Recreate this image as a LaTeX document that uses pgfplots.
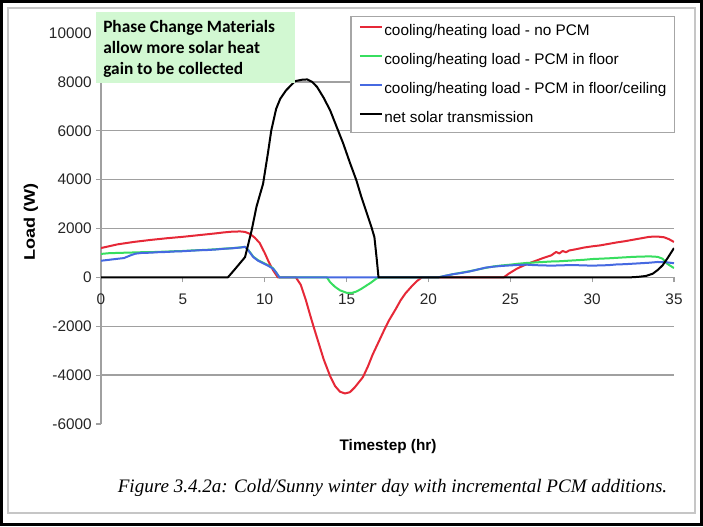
\documentclass[border=0pt]{standalone}
\usepackage{fontspec}
\setmainfont{Liberation Sans}
\newfontfamily\capfont{Liberation Serif}
\newfontfamily\notefont{Carlito}
\usepackage{graphicx}
\usepackage{pgfplots}
\pgfplotsset{compat=1.18}
\definecolor{cRed}{RGB}{230,40,55}
\definecolor{cGreen}{RGB}{55,222,95}
\definecolor{cBlue}{RGB}{70,105,225}
\definecolor{gridgray}{RGB}{160,160,160}
\definecolor{notegreen}{RGB}{210,248,210}
\begin{document}
\begin{tikzpicture}[x=0.75pt,y=0.75pt]
\path[use as bounding box] (0,0) rectangle (703,526);
\fill[white] (0,0) rectangle (703,526);
\draw[gray!45, line width=1pt] (8,13) rectangle (695,518);
\draw[black, line width=2.2pt] (1.5,1.5) rectangle (701.5,524.5);
\begin{axis}[
  at={(75.75pt,76.5pt)}, anchor=south west,
  scale only axis, width=429.75pt, height=293.25pt,
  xmin=0, xmax=35, ymin=-6000, ymax=10000,
  axis x line=middle, axis y line=left,
  axis line style={-, draw=gridgray, line width=1pt},
  scaled ticks=false,
  hide obscured x ticks=false,
  xtick={0,5,...,35}, xticklabels={0,5,10,15,20,25,30,35},
  ytick={-4000,-2000,...,8000},
  yticklabels={-4000,-2000,0,2000,4000,6000,8000},
  extra y ticks={-6000,10000}, extra y tick labels={-6000,10000},
  extra y tick style={grid=none},
  ymajorgrids, grid style={gridgray, line width=1.1pt},
  tick style={gridgray, line width=0.8pt}, tick align=outside,
  major tick length=3.5pt,
  tick label style={font=\fontsize{11.5}{13}\selectfont, text=black!85},
  xticklabel style={anchor=north, yshift=-5.5pt},
  yticklabel style={anchor=east},
  xlabel={\textbf{Timestep (hr)}},
  xlabel style={at={(axis description cs:0.501,-0.0588)}, anchor=center, font=\fontsize{11.5}{13}\selectfont},
  ylabel={\scalebox{1.18}[1]{\textbf{Load (W)}}},
  ylabel style={at={(axis description cs:-0.1222,0.5166)}, anchor=center, rotate=0, font=\fontsize{11.5}{13}\selectfont},
  legend style={at={(axis description cs:1.0017,1.0435)}, anchor=north east,
    draw=gray!70, line width=0.8pt, fill=white,
    font=\fontsize{11.5}{13}\selectfont, inner xsep=6pt, inner ysep=5.5pt,
    row sep=10.75pt, column sep=1pt,
    nodes={inner sep=0pt, text height=8.5pt, text depth=2.5pt}},
  legend cell align=left,
  legend image code/.code={\draw[#1] (0pt,3pt) -- (16.5pt,3pt);},
  every axis plot/.append style={line width=1.5pt, line join=round},
]
\addplot[cRed] coordinates {
(0,1200) (1,1350) (2,1450) (3,1530) (4,1600) (5,1660) (6,1730) (7,1800)
(7.5,1840) (8,1870) (8.5,1880) (8.8,1860) (9.1,1780) (9.4,1620) (9.7,1400)
(10.0,1000) (10.2,700) (10.5,300) (10.8,0) (11.9,0) (12.2,-300) (12.5,-900)
(12.8,-1600) (13.0,-2050) (13.3,-2700) (13.6,-3350) (14.0,-4050) (14.3,-4450)
(14.6,-4680) (14.9,-4750) (15.2,-4700) (15.5,-4500) (15.8,-4250) (16.0,-4080)
(16.3,-3650) (16.6,-3150) (17.0,-2580) (17.3,-2150) (17.6,-1750) (18.0,-1300)
(18.3,-940) (18.6,-650) (19.0,-350) (19.3,-150) (19.6,0) (24.6,0) (24.9,150)
(25.4,355) (25.8,480) (26.4,640) (27.0,790) (27.5,900) (27.8,1040) (28.0,980)
(28.2,1080) (28.4,1030) (28.6,1100) (29.0,1150) (29.5,1220) (30.0,1270)
(30.5,1310) (31.0,1370) (31.5,1430) (32.0,1480) (32.5,1540) (33.0,1600)
(33.5,1660) (34.0,1670) (34.4,1640) (34.7,1560) (35.0,1450)
};
\addlegendentry{cooling/heating load - no PCM}
\addplot[cGreen] coordinates {
(0,960) (0.5,990) (1,1000) (1.5,1010) (2,1020) (2.5,1030) (3,1030) (3.5,1045)
(4,1055) (4.5,1070) (5,1080) (5.5,1100) (6,1115) (6.5,1130) (7,1150)
(7.5,1175) (8,1195) (8.5,1225) (8.8,1250) (9.0,1120) (9.3,850) (9.6,700)
(9.9,600) (10.2,500) (10.5,380) (10.7,200) (10.9,0) (13.8,0) (14.0,-200)
(14.3,-390) (14.6,-530) (15.0,-630) (15.3,-640) (15.6,-580) (15.9,-470)
(16.2,-340) (16.5,-210) (16.8,-60) (16.95,0) (20.6,0) (21,60) (21.5,130)
(22,190) (22.5,250) (23,320) (23.5,390) (24,450) (24.5,490) (25,520)
(25.5,560) (26,590) (26.5,610) (27,630) (27.5,650) (28,660) (28.5,680)
(29,700) (29.5,720) (30,750) (30.5,765) (31,780) (31.5,800) (32,820)
(32.5,840) (33,850) (33.5,860) (34,840) (34.3,765) (34.6,550) (35,380)
};
\addlegendentry{cooling/heating load - PCM in floor}
\addplot[cBlue] coordinates {
(0,680) (0.5,720) (1.0,760) (1.4,790) (1.8,900) (2.1,970) (2.5,1000)
(3,1010) (3.5,1030) (4,1040) (4.5,1060) (5,1070) (5.5,1090) (6,1110)
(6.5,1120) (7,1140) (7.5,1170) (8,1190) (8.5,1220) (8.8,1250) (9.0,1100)
(9.3,830) (9.6,680) (9.9,580) (10.2,480) (10.5,360) (10.7,200) (10.9,0)
(20.6,0) (21,60) (21.5,130) (22,180) (22.5,240) (23,320) (23.5,400)
(24,440) (24.5,470) (25,490) (25.5,510) (26,520) (26.5,500) (27,490)
(27.5,480) (28,490) (28.5,500) (29,500) (29.5,490) (30,480) (30.5,490)
(31,500) (31.5,530) (32,540) (32.5,560) (33,580) (33.5,600) (34,630)
(34.5,620) (35,580)
};
\addlegendentry{cooling/heating load - PCM in floor/ceiling}
\addplot[black] coordinates {
(0,0) (7.75,0) (8.2,350) (8.8,830) (9.2,1920) (9.5,2900) (9.9,3830)
(10.2,5100) (10.4,6010) (10.7,6900) (10.95,7310) (11.3,7650) (11.85,8030)
(12.3,8090) (12.6,8100) (12.9,8000) (13.2,7790) (13.6,7350) (14.0,6830)
(14.4,6150) (14.8,5470) (15.2,4700) (15.6,3970) (15.9,3300) (16.25,2600)
(16.5,2100) (16.7,1650) (16.85,700) (16.95,0) (32.3,0) (32.8,20) (33.3,60)
(33.7,150) (34.0,300) (34.3,490) (34.6,780) (35,1200)
};
\addlegendentry{net solar transmission}
\end{axis}
\fill[notegreen] (96,514) rectangle (295,443);
\begin{scope}[every node/.style={anchor=base west, inner sep=0pt,
  font=\notefont\bfseries\fontsize{13}{16}\selectfont}]
\node at (103,493) {Phase Change Materials};
\node at (103,472) {allow more solar heat};
\node at (103,451) {gain to be collected};
\end{scope}
\node[anchor=center, inner sep=0pt, font=\capfont\itshape\fontsize{14.3}{16}\selectfont]
  at (392.5,38) {Figure 3.4.2a: Cold/Sunny winter day with incremental PCM additions.};
\end{tikzpicture}
\end{document}
